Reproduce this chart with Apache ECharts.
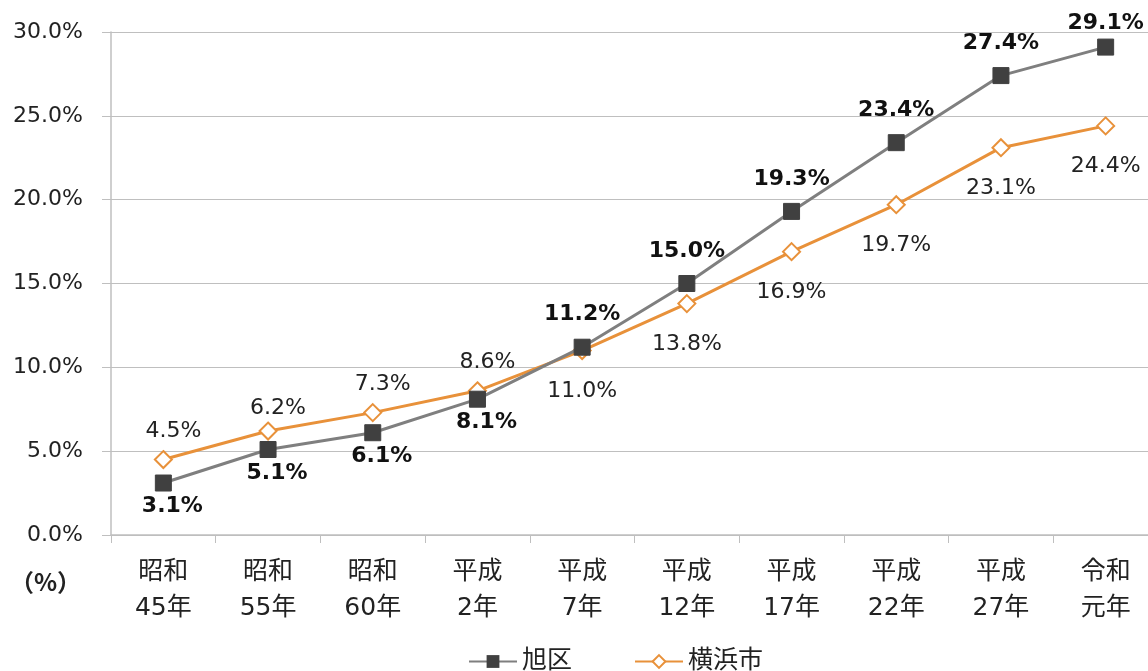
<!DOCTYPE html>
<html><head><meta charset="utf-8">
<script src="https://cdn.jsdelivr.net/npm/echarts@6/dist/echarts.min.js"></script>
<style>html,body{margin:0;padding:0;background:#fff;overflow:hidden}#c{width:1160px;height:671px}</style>
</head><body><div id="c"></div>
<script>
const categories = ['昭和\n45年','昭和\n55年','昭和\n60年','平成\n2年','平成\n7年','平成\n12年','平成\n17年','平成\n22年','平成\n27年','令和\n元年'];
const asahiValues = [3.1,5.1,6.1,8.1,11.2,15.0,19.3,23.4,27.4,29.1];
const yokohamaValues = [4.5,6.2,7.3,8.6,11.0,13.8,16.9,19.7,23.1,24.4];
const asahiLabelPos = ['bottom','bottom','bottom','bottom','top','top','top','top','top','top'];
const yokohamaLabelPos = ['top','top','top','top','bottom','bottom','bottom','bottom','bottom','bottom'];
const yTicks = [0,5,10,15,20,25,30];

const FONT = '"DejaVu Sans","Noto Sans CJK JP",sans-serif';
const chart = echarts.init(document.getElementById('c'));

const asahiData = asahiValues.map((v,i)=>({
  value:v,
  label:{position:asahiLabelPos[i], distance: asahiLabelPos[i]==='top' ? (i===9?4:13) : 4, offset:[i<4?9:0,0]}
}));
const yokoData = yokohamaValues.map((v,i)=>({
  value:v,
  label:{position:yokohamaLabelPos[i], distance: yokohamaLabelPos[i]==='top' ? (i===1?2:8) : 20, offset:[i<4?10:0,0]}
}));

chart.setOption({
  animation:false,
  textStyle:{fontFamily:FONT},
  grid:{left:111, top:32, width:1047, height:503, containLabel:false},
  legend:{
    bottom:-8, left:463, itemWidth:48, itemHeight:16, itemGap:62,
    textStyle:{fontSize:25, color:'#222', fontFamily:FONT},
    data:['旭区','横浜市']
  },
  xAxis:{
    type:'category', data:categories, boundaryGap:true,
    axisLine:{lineStyle:{color:'#bfbfbf', width:1.5}},
    axisTick:{show:true, length:8, lineStyle:{color:'#bfbfbf'}},
    axisLabel:{fontSize:25, color:'#222', lineHeight:36, margin:19, fontFamily:FONT, interval:0}
  },
  yAxis:{
    type:'value', min:0, max:30, interval:5,
    axisLine:{show:true, lineStyle:{color:'#bfbfbf', width:1.5}},
    axisTick:{show:true, length:9, lineStyle:{color:'#bfbfbf'}},
    splitLine:{lineStyle:{color:'#bfbfbf', width:1.2}},
    axisLabel:{fontSize:22, color:'#222', margin:28, fontFamily:FONT, formatter:v=>v.toFixed(1)+'%'}
  },
  graphic:[{type:'text', left:10, top:570, style:{text:'（%）', fill:'#222', font:'bold 24px "Noto Sans CJK JP",sans-serif'}}],
  series:[
    {
      name:'旭区', type:'line', data:asahiData,
      symbol:'rect', symbolSize:16,
      lineStyle:{color:'#7f7f7f', width:3},
      itemStyle:{color:'#404040', borderColor:'#404040'},
      label:{show:true, fontSize:22, fontWeight:'bold', color:'#111', fontFamily:FONT, formatter:p=>p.value.toFixed(1)+'%'},
      z:3
    },
    {
      name:'横浜市', type:'line', data:yokoData,
      symbol:'diamond', symbolSize:17,
      lineStyle:{color:'#e8913a', width:3},
      itemStyle:{color:'#ffffff', borderColor:'#e8913a', borderWidth:2},
      label:{show:true, fontSize:22, color:'#222', fontFamily:FONT, formatter:p=>p.value.toFixed(1)+'%'},
      z:2
    }
  ]
});
</script></body></html>
